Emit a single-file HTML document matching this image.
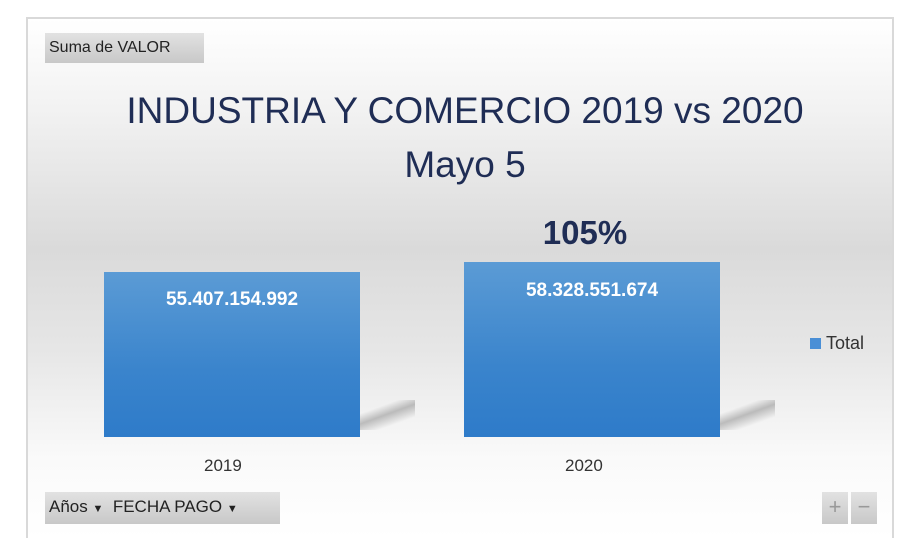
<!DOCTYPE html>
<html style="width:906px;height:538px;overflow:hidden;margin:0"><head><meta charset="utf-8"><style>
body{margin:0;width:906px;height:538px;background:#fff;position:relative;overflow:hidden;font-family:"Liberation Sans",sans-serif}
.frame{position:absolute;left:26px;top:17px;width:868px;height:521px;border:2px solid #d9d9d9;border-bottom:none;box-sizing:border-box;
background:linear-gradient(#fff 0px,#f2f2f2 90px,#dadada 230px,#e6e6e6 330px,#fafafa 440px,#fff 520px)}
.btn{position:absolute;background:linear-gradient(#e2e2e2,#c8c8c8);color:#222;font-size:16px;line-height:30px}
.bar{position:absolute;background:linear-gradient(#5b9bd5,#3a84cc 60%,#2e7bc9)}
.lab{position:absolute;color:#fff;font-weight:bold;font-size:19px;text-align:center;width:256px}
.t{position:absolute;color:#1f2d55;text-align:center}
.sh{position:absolute;height:30px;width:60px;background:linear-gradient(160deg,rgba(0,0,0,0) 30%,rgba(120,120,120,.45) 50%,rgba(0,0,0,0) 75%)}
</style></head><body>
<div class="frame"></div>
<div class="btn" style="left:45px;top:33px;width:155px;padding-left:4px">Suma de VALOR</div>
<div class="t" style="left:0;width:930px;top:90px;font-size:37px">INDUSTRIA Y COMERCIO 2019 vs 2020</div>
<div class="t" style="left:0;width:930px;top:144px;font-size:37px">Mayo 5</div>
<div class="t" style="left:485px;width:200px;top:214px;font-size:33px;font-weight:bold">105%</div>
<div class="sh" style="left:355px;top:400px"></div>
<div class="sh" style="left:715px;top:400px"></div>
<div class="bar" style="left:104px;top:272px;width:256px;height:165px"></div>
<div class="bar" style="left:464px;top:262px;width:256px;height:175px"></div>
<div class="lab" style="left:104px;top:289px">55.407.154.992</div>
<div class="lab" style="left:464px;top:280px">58.328.551.674</div>
<div style="position:absolute;left:810px;top:338px;width:11px;height:11px;background:#4a8fd6"></div>
<div style="position:absolute;left:826px;top:333px;font-size:18px;color:#333">Total</div>
<div style="position:absolute;left:204px;top:456px;font-size:17px;color:#333">2019</div>
<div style="position:absolute;left:565px;top:456px;font-size:17px;color:#333">2020</div>
<div class="btn" style="left:45px;top:492px;width:231px;padding-left:4px;font-size:17px">Años <span style="font-size:11px">▼</span>&nbsp; FECHA PAGO <span style="font-size:11px">▼</span></div>
<div class="btn" style="left:822px;top:492px;width:26px;height:32px;text-align:center;color:#999;font-size:22px">+</div>
<div class="btn" style="left:851px;top:492px;width:26px;height:32px;text-align:center;color:#999;font-size:22px">−</div>
</body></html>
